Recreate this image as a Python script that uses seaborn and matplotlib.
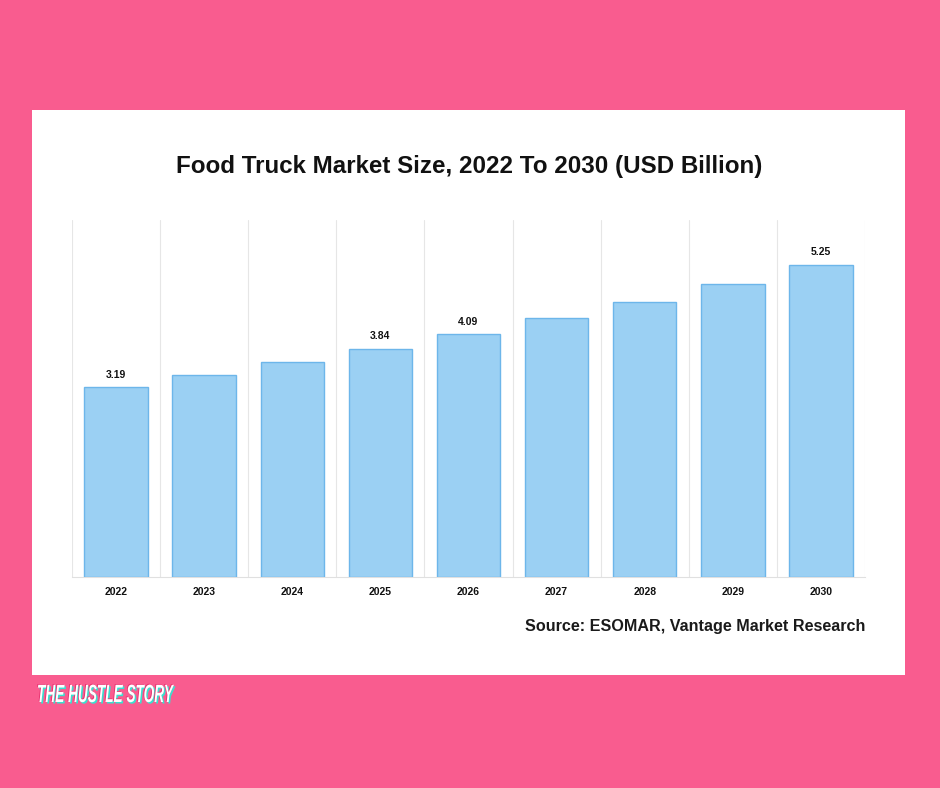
import numpy as np
import pandas as pd
import matplotlib.pyplot as plt
from matplotlib.patches import Rectangle, PathPatch
from matplotlib.textpath import TextPath
from matplotlib.font_manager import FontProperties
from matplotlib.transforms import Affine2D
import seaborn as sns

sns.set_style("white")
plt.rcParams['font.family'] = ['Liberation Sans', 'DejaVu Sans']

# Dados
anos = ['2022', '2023', '2024', '2025', '2026', '2027', '2028', '2029', '2030']
valores = [3.19, 3.39, 3.61, 3.84, 4.09, 4.35, 4.63, 4.92, 5.25]
anos_com_rotulo = ['2022', '2025', '2026', '2030']

titulo = 'Food Truck Market Size, 2022 To 2030 (USD Billion)'
fonte = 'Source: ESOMAR, Vantage Market Research'
marca = 'THE HUSTLE STORY'

df = pd.DataFrame({'ano': anos, 'valor': valores})

rosa = '#F95C8F'
fig = plt.figure(figsize=(9.4, 7.88), dpi=100, facecolor=rosa)

# painel branco
fig.patches.append(Rectangle((32 / 940, 1 - 675 / 788), 873 / 940, 565 / 788,
                             transform=fig.transFigure, facecolor='white',
                             edgecolor='none', zorder=-10))

ax = fig.add_axes([72 / 940, 1 - 577 / 788, 793 / 940, 357 / 788])
ax.set_facecolor('none')

sns.barplot(data=df, x='ano', y='valor', ax=ax, color='#9BD0F3', width=0.72,
            edgecolor='#6DB6EA', linewidth=1.0, saturation=1, zorder=3)

ax.set_xlim(-0.5, len(anos) - 0.5)
ax.set_ylim(0, 6)

# rótulos de valor
for i, (a, v) in enumerate(zip(anos, valores)):
    if a in anos_com_rotulo:
        ax.text(i, v + 0.12, f'{v:.2f}', ha='center', va='bottom',
                fontsize=7.5, fontweight='bold', color='#111111')

# grade vertical nas divisas das categorias
ax.set_xticks(np.arange(-0.5, len(anos)), minor=True)
ax.grid(True, which='minor', axis='x', color='#E6E6E6', linewidth=0.8, zorder=0)
ax.grid(False, which='major')
ax.tick_params(axis='x', which='minor', length=5, color='#E0E0E0', width=0.8)
ax.tick_params(axis='x', which='major', length=0, pad=7, labelsize=7.5)
for lbl in ax.get_xticklabels():
    lbl.set_fontweight('bold')
    lbl.set_color('#111111')
ax.set_yticks([])
ax.set_xlabel('')
ax.set_ylabel('')

for s in ['top', 'right', 'left']:
    ax.spines[s].set_visible(False)
ax.spines['bottom'].set_color('#E0E0E0')
ax.spines['bottom'].set_linewidth(0.8)

fig.text(469 / 940, 1 - 166 / 788, titulo, ha='center', va='center',
         fontsize=17.4, fontweight='bold', color='#111111')
fig.text(865 / 940, 1 - 626 / 788, fonte, ha='right', va='center',
         fontsize=11.6, fontweight='bold', color='#1a1a1a')

# marca d'água condensada (texto como caminho, comprimido na horizontal)
fp = FontProperties(family='Liberation Sans', weight='bold', style='italic')
tp = TextPath((0, 0), marca, size=25, prop=fp)
largura = tp.get_extents().width
sx = 136 / largura
for dx, dy, cor in [(1.5, -1.5, '#39E0D0'), (-0.8, 0.8, '#E8306F'), (0, 0, 'white')]:
    tr = Affine2D().scale(sx, 1.0).translate(37 + dx, 788 - 702 + dy)
    fig.patches.append(PathPatch(tr.transform_path(tp), facecolor=cor,
                                 edgecolor='none', transform=None, zorder=5))

plt.savefig('out.png', dpi=100, facecolor=rosa)
